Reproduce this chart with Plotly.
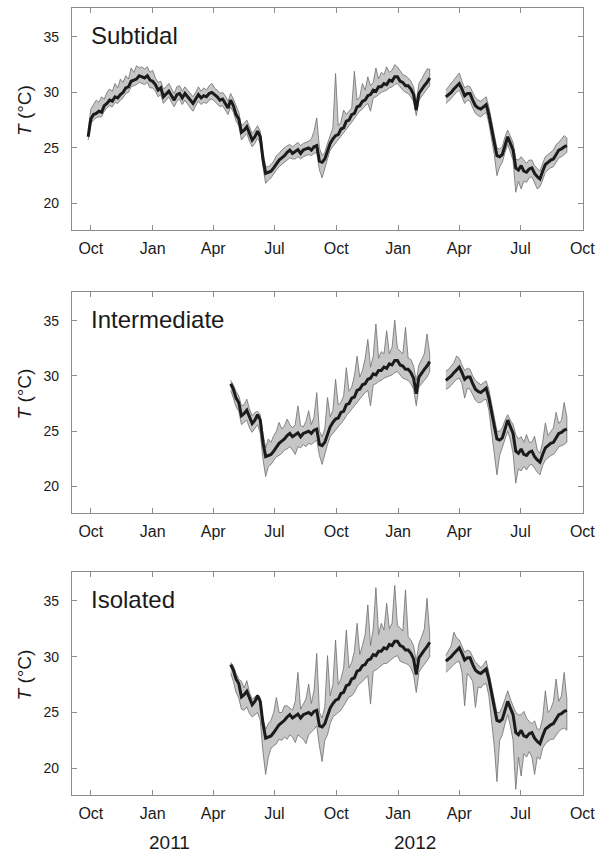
import pandas as pd
import plotly.graph_objects as go

# ---------------- data (4-day sampling) ----------------
sub_start = "2010-09-27"
site_start = "2011-04-27"
step = "4D"

tick_dates = ["2010-10-01", "2011-01-01", "2011-04-01", "2011-07-01", "2011-10-01",
              "2012-01-01", "2012-04-01", "2012-07-01", "2012-10-01"]
tick_labels = ["Oct", "Jan", "Apr", "Jul", "Oct", "Jan", "Apr", "Jul", "Oct"]
y_ticks = [20, 25, 30, 35]
panel_names = ["Subtidal", "Intermediate", "Isolated"]
year_labels = ["2011", "2012"]
year_dates = ["2011-01-26", "2012-01-26"]

N = None
# daily-mean temperature (thick line)
mean_T = [
    26.0, 27.6, 28.0, 28.1, 28.3, 28.2, 28.8, 29.0, 29.3, 29.2,
    29.6, 29.5, 29.8, 30.0, 30.4, 30.5, 31.0, 31.1, 31.2, 31.5,
    31.4, 31.3, 31.5, 31.1, 31.0, 30.7, 30.2, 30.4, 29.6, 29.9,
    30.1, 29.7, 29.3, 29.8, 29.9, 29.5, 29.9, 29.6, 29.3, 29.0,
    29.4, 29.8, 29.5, 29.7, 29.6, 29.9, 30.0, 29.8, 29.6, 29.3,
    29.4, 29.0, 28.6, 29.3, 28.8, 28.0, 27.6, 26.4, 26.6, 26.9,
    26.2, 25.7, 26.0, 26.5, 26.0, 24.0, 22.7, 22.8, 22.9, 23.2,
    23.6, 23.9, 24.1, 24.3, 24.6, 24.8, 24.5, 24.7, 24.85, 24.5,
    24.8, 24.9, 25.0, 24.8, 25.1, 25.2, 23.8, 23.7, 24.0, 24.7,
    25.4, 25.8, 26.1, 26.2, 26.7, 26.8, 27.4, 27.5, 28.0, 28.1,
    28.7, 28.8, 29.2, 29.3, 29.7, 29.8, 30.2, 30.1, 30.5, 30.5,
    30.8, 30.7, 31.1, 31.0, 31.4, 31.4, 31.0, 30.9, 30.6, 30.6,
    30.3, 29.8, 28.4, 29.9, 30.3, 30.6, 30.9, 31.3, N, N,
    N, N, N, 29.6, 29.8, 30.0, 30.3, 30.6, 30.8, 30.3,
    29.7, 29.9, 29.9, 29.3, 28.8, 28.6, 28.5, 28.7, 28.9, 28.0,
    26.9, 25.5, 24.3, 24.2, 24.4, 25.3, 26.0, 25.4, 24.8, 23.2,
    23.0, 23.4, 22.9, 22.8, 23.1, 23.2, 22.7, 22.4, 22.2, 22.9,
    23.5, 23.7, 23.9, 24.0, 24.4, 24.8, 24.9, 25.1, 25.2,
]

# Subtidal raw-record envelope (upper / lower)
sub_hi = [
    26.6, 28.5, 28.9, 29.3, 29.1, 29.6, 29.4, 30.0, 30.3, 30.1,
    30.8, 30.4, 31.2, 30.9, 31.5, 31.2, 32.2, 31.8, 32.4, 32.2,
    32.3, 32.1, 32.3, 31.8, 32.0, 31.3, 30.9, 31.0, 30.3, 30.5,
    30.8, 30.3, 29.9, 30.5, 30.6, 30.1, 30.5, 30.2, 29.9, 29.6,
    30.0, 30.5, 30.1, 30.4, 30.2, 30.6, 30.8, 30.4, 30.2, 29.9,
    30.0, 29.7, 29.2, 29.9, 29.4, 28.7, 28.2, 27.0, 27.2, 27.5,
    26.8, 26.3, 26.6, 27.0, 26.5, 24.6, 23.3, 23.3, 23.5, 23.8,
    24.3, 24.5, 24.8, 25.0, 25.2, 25.3, 25.1, 25.3, 25.5, 25.2,
    25.4, 25.5, 25.6, 25.8, 26.5, 27.7, 25.0, 24.3, 24.6, 25.4,
    26.2, 26.8, 31.7, 27.0, 27.3, 28.4, 28.0, 28.3, 28.6, 31.9,
    29.3, 29.6, 30.8, 30.2, 31.4, 30.6, 30.9, 32.2, 31.2, 31.8,
    31.6, 32.3, 31.8, 32.0, 32.5, 32.3, 31.9, 31.6, 31.5, 31.3,
    31.0, 30.5, 29.2, 30.8, 31.2, 31.6, 32.1, 32.1, N, N,
    N, N, N, 30.2, 30.5, 30.8, 31.1, 31.4, 31.75, 31.0,
    30.4, 30.6, 30.5, 30.0, 29.5, 29.3, 29.2, 29.4, 29.6, 28.7,
    27.6, 26.2, 25.0, 24.9, 25.1, 26.0, 26.6, 26.1, 25.5, 24.0,
    23.9, 24.2, 23.9, 23.6, 23.9, 23.9, 23.4, 23.1, 22.9, 23.6,
    24.2, 24.4, 24.6, 24.8, 25.3, 25.5, 25.8, 26.1, 25.9,
]
sub_lo = [
    25.7, 27.2, 27.5, 27.7, 27.8, 27.8, 28.3, 28.6, 28.8, 28.7,
    29.1, 29.0, 29.3, 29.5, 29.9, 30.0, 30.5, 30.6, 30.7, 30.9,
    30.8, 30.7, 30.9, 30.4, 30.4, 30.1, 29.6, 29.8, 29.0, 29.3,
    29.6, 29.1, 28.7, 29.2, 29.4, 28.9, 29.3, 29.0, 28.6, 28.3,
    28.8, 29.2, 28.9, 29.1, 29.0, 29.3, 29.4, 29.2, 29.0, 28.7,
    28.8, 28.4, 28.0, 28.7, 28.2, 27.4, 27.0, 25.7, 26.0, 26.3,
    25.6, 25.1, 25.4, 25.9, 25.4, 23.3, 21.8, 22.1, 22.3, 22.6,
    23.0, 23.3, 23.5, 23.7, 23.9, 24.1, 24.0, 24.0, 24.2, 24.0,
    24.2, 24.3, 24.4, 24.3, 24.5, 24.6, 23.0, 22.3, 23.2, 24.0,
    24.8, 25.2, 25.4, 25.7, 26.0, 26.3, 26.7, 27.0, 27.3, 27.6,
    28.0, 28.3, 28.5, 28.8, 29.0, 28.3, 29.5, 29.6, 29.8, 30.0,
    30.1, 30.2, 30.4, 30.5, 30.7, 30.8, 30.5, 30.2, 30.0, 29.9,
    29.6, 29.2, 27.9, 29.3, 29.7, 30.0, 30.3, 30.6, N, N,
    N, N, N, 29.0, 29.2, 29.4, 29.7, 30.0, 30.2, 29.6,
    29.0, 29.3, 29.2, 28.6, 28.1, 27.9, 27.8, 28.0, 28.2, 27.2,
    26.0, 24.4, 22.5, 23.3, 23.7, 24.6, 25.3, 24.6, 23.9, 21.0,
    22.0, 21.3, 22.0, 21.9, 22.3, 22.4, 21.9, 21.3, 21.5, 22.1,
    22.8, 23.0, 23.2, 23.3, 23.7, 24.1, 24.2, 24.4, 24.6,
]

# Intermediate envelope (from site_start)
int_hi = [
    29.6, 29.2, 28.6, 28.2, 27.3, 27.4, 27.9, 27.0, 26.4, 26.7,
    26.8, 26.5, 24.8, 23.5, 24.3, 24.0, 24.6, 25.0, 25.8, 25.2,
    25.5, 26.1, 25.6, 25.3, 25.6, 27.3, 25.5, 25.4, 25.9, 26.85,
    25.6, 26.3, 28.5, 25.0, 24.5, 25.2, 28.05, 26.3, 26.9, 29.7,
    27.4, 27.6, 28.2, 30.75, 28.6, 29.0, 30.0, 31.8, 29.9, 30.5,
    31.6, 33.3, 30.8, 31.8, 34.7, 31.6, 32.2, 32.0, 34.1, 32.0,
    32.6, 35.05, 32.5, 32.2, 32.0, 34.4, 31.6, 31.5, 30.9, 29.6,
    31.0, 31.5, 32.0, 33.8, 32.0, N, N, N, N, N,
    30.45, 30.6, 30.9, 31.2, 31.8, 31.6, 31.0, 30.5, 30.7, 30.6,
    30.0, 29.6, 29.4, 29.2, 29.4, 29.55, 28.8, 27.6, 26.3, 25.0,
    25.0, 25.3, 26.0, 26.5, 26.0, 25.6, 24.7, 24.3, 24.5, 24.0,
    24.7, 24.0, 24.0, 24.55, 23.3, 23.0, 24.0, 25.75, 24.6, 24.9,
    25.3, 26.7, 25.7, 26.0, 27.6, 26.3,
]
int_lo = [
    28.7, 28.0, 27.2, 26.8, 25.6, 25.8, 26.0, 25.3, 24.9, 25.2,
    25.6, 24.8, 22.5, 20.9, 21.8, 22.0, 22.3, 22.7, 22.8, 23.0,
    23.3, 23.4, 23.6, 23.3, 22.9, 23.6, 23.5, 23.8, 23.6, 23.9,
    23.8, 24.0, 24.2, 22.8, 22.0, 23.0, 23.8, 24.5, 24.9, 25.2,
    25.5, 25.7, 26.0, 26.4, 26.8, 27.0, 27.3, 27.7, 28.0, 28.2,
    28.5, 28.7, 27.3, 29.2, 29.3, 29.5, 29.6, 29.8, 29.9, 30.0,
    30.1, 30.3, 30.4, 30.1, 29.8, 29.7, 29.6, 29.3, 28.8, 27.3,
    29.0, 29.3, 29.6, 29.9, 30.4, N, N, N, N, N,
    28.8, 28.9, 29.2, 29.4, 29.7, 29.8, 29.3, 28.0, 28.9, 28.8,
    28.3, 27.8, 27.6, 27.6, 27.8, 27.9, 26.9, 25.0, 23.0, 21.05,
    22.8, 23.4, 24.3, 25.0, 24.2, 23.0, 20.3, 21.6, 21.4, 21.8,
    21.5, 21.9, 22.0, 21.6, 21.3, 21.05, 21.9, 22.4, 22.6, 22.8,
    22.9, 23.2, 23.6, 23.7, 23.8, 24.0,
]

# Isolated envelope (from site_start)
iso_hi = [
    29.5, 29.2, 28.5, 28.0, 27.8, 27.2, 27.85, 26.8, 26.2, 26.4,
    26.6, 26.3, 24.5, 23.5, 24.0, 24.3, 25.0, 26.35, 25.0, 25.0,
    25.6, 25.6, 25.4, 25.2, 26.0, 28.6, 25.3, 25.8, 26.2, 27.55,
    25.8, 27.0, 30.3, 25.0, 24.5, 25.5, 30.1, 26.5, 27.5, 31.5,
    27.5, 28.0, 29.0, 32.4, 29.0, 29.5, 30.5, 33.0, 30.2, 31.0,
    32.0, 34.65, 31.0, 32.5, 36.2, 32.0, 33.0, 32.4, 34.8, 32.5,
    33.0, 36.4, 32.8, 32.6, 32.3, 36.0, 31.8, 31.5, 31.0, 29.6,
    31.2, 31.8, 32.5, 35.25, 32.0, N, N, N, N, N,
    30.1, 30.6, 31.0, 32.2, 31.7, 31.5, 31.0, 30.4, 30.6, 30.5,
    30.0, 29.5, 29.3, 29.0, 29.3, 29.65, 28.6, 27.5, 26.2, 25.0,
    25.0, 25.5, 26.2, 26.95, 26.2, 25.6, 25.0, 24.8, 24.8, 25.1,
    24.5, 24.2, 24.0, 24.25, 23.5, 23.5, 24.5, 26.95, 25.0, 25.3,
    26.0, 28.0, 26.0, 26.5, 28.6, 26.2,
]
iso_lo = [
    28.5, 27.8, 26.8, 26.3, 25.3, 25.2, 25.5, 24.9, 24.6, 24.8,
    25.0, 24.3, 21.5, 19.45, 21.0, 21.8, 22.0, 22.2, 22.6, 22.5,
    22.8, 22.6, 23.0, 22.8, 22.3, 23.0, 22.8, 22.6, 22.2, 23.0,
    23.2, 23.5, 23.8, 22.0, 20.6, 22.5, 23.0, 24.0, 24.6, 24.8,
    25.0, 25.2, 25.5, 26.0, 26.4, 26.5, 26.8, 27.3, 27.6, 27.8,
    28.0, 28.3, 25.75, 28.7, 28.8, 29.0, 29.2, 29.4, 29.4, 29.6,
    29.8, 30.0, 30.1, 29.6, 29.5, 29.4, 29.3, 29.0, 28.4, 26.8,
    28.6, 29.0, 29.3, 29.6, 30.0, N, N, N, N, N,
    28.6, 28.8, 29.0, 29.3, 29.5, 29.6, 28.6, 25.6, 28.5, 28.2,
    27.8, 25.45, 27.3, 27.2, 27.5, 27.6, 26.5, 24.5, 22.0, 18.8,
    22.5, 23.0, 24.0, 24.8, 23.8, 22.5, 18.1, 21.0, 19.3, 21.3,
    21.0, 21.5, 21.0, 19.45, 21.0, 20.8, 21.8, 22.2, 22.4, 22.6,
    22.6, 23.0, 23.3, 23.5, 23.6, 23.4,
]

# ---------------- figure ----------------
W, H = 600, 854
FONT = "Liberation Sans, Arial, sans-serif"
BAND_FILL = "#c6c6c6"
BAND_LINE = "#6f6f6f"
MEAN_COL = "#1b1b1b"
FRAME = "#8c8c8c"
TXT = "#1a1a1a"

sub_dates = pd.date_range(sub_start, periods=len(mean_T), freq=step)
site_dates = pd.date_range(site_start, periods=len(int_hi), freq=step)
offset = list(sub_dates).index(pd.Timestamp(site_start))
site_mean = mean_T[offset:]

# panel pixel boxes: (top, bottom)
boxes = [(8, 230), (292, 513), (572, 795)]
x_left, x_right = 72, 583


def segments(dates, hi, lo):
    segs, cur = [], []
    for d, h, l in zip(dates, hi, lo):
        if h is None or l is None:
            if cur:
                segs.append(cur)
            cur = []
        else:
            cur.append((d, h, l))
    if cur:
        segs.append(cur)
    return segs


panels = [
    (sub_dates, sub_hi, sub_lo, mean_T),
    (site_dates, int_hi, int_lo, site_mean),
    (site_dates, iso_hi, iso_lo, site_mean),
]

fig = go.Figure()
for k, (dates, hi, lo, mn) in enumerate(panels):
    xa = "x" if k == 0 else f"x{k+1}"
    ya = "y" if k == 0 else f"y{k+1}"
    for seg in segments(dates, hi, lo):
        ds = [s[0] for s in seg]
        hs = [s[1] for s in seg]
        ls = [s[2] for s in seg]
        fig.add_trace(go.Scatter(
            x=ds + ds[::-1], y=hs + ls[::-1], mode="lines", fill="toself",
            fillcolor=BAND_FILL, line=dict(color=BAND_LINE, width=0.8),
            xaxis=xa, yaxis=ya, showlegend=False, hoverinfo="skip"))
    fig.add_trace(go.Scatter(
        x=list(dates), y=mn, mode="lines", connectgaps=False,
        line=dict(color=MEAN_COL, width=3), xaxis=xa, yaxis=ya,
        showlegend=False))

layout = dict(
    width=W, height=H, autosize=False, margin=dict(l=0, r=0, t=0, b=0, pad=0),
    paper_bgcolor="white", plot_bgcolor="white",
    font=dict(family=FONT, color=TXT, size=14),
    annotations=[],
)

for k, (top, bot) in enumerate(boxes):
    xk = "xaxis" if k == 0 else f"xaxis{k+1}"
    yk = "yaxis" if k == 0 else f"yaxis{k+1}"
    ya = "y" if k == 0 else f"y{k+1}"
    xa = "x" if k == 0 else f"x{k+1}"
    common = dict(
        showline=True, mirror="ticks", linecolor=FRAME, linewidth=1.3,
        ticks="inside", ticklen=5, tickwidth=1, tickcolor=FRAME,
        showgrid=False, zeroline=False, automargin=False,
    )
    layout[xk] = dict(
        common, type="date", domain=[x_left / W, x_right / W],
        range=["2010-09-03", "2012-10-02"],
        tickvals=tick_dates, ticktext=tick_labels, anchor=ya,
        tickfont=dict(family=FONT, size=16, color=TXT), ticklabelstandoff=4,
    )
    layout[yk] = dict(
        common, domain=[1 - bot / H, 1 - top / H], range=[17.6, 37.6],
        tickvals=y_ticks, ticktext=[str(v) for v in y_ticks], anchor=xa,
        tickfont=dict(family=FONT, size=14, color=TXT), ticklabelstandoff=9,
    )
    # panel name
    layout["annotations"].append(dict(
        text=panel_names[k], x=0.033, y=0.875, xref=f"{xa} domain",
        yref=f"{ya} domain", xanchor="left", yanchor="middle", showarrow=False,
        font=dict(family=FONT, size=24, color=TXT)))
    # y-axis title
    layout["annotations"].append(dict(
        text="<i>T</i> (°C)", x=24 / W, y=1 - ((top + bot) / 2 - 8) / H,
        xref="paper", yref="paper", textangle=-90, showarrow=False,
        xanchor="center", yanchor="middle",
        font=dict(family=FONT, size=19, color=TXT)))

for lab, d in zip(year_labels, year_dates):
    layout["annotations"].append(dict(
        text=lab, x=d, y=1 - 842 / H, xref="x3", yref="paper",
        showarrow=False, xanchor="center", yanchor="middle",
        font=dict(family=FONT, size=19, color=TXT)))

fig.update_layout(**layout)
fig.write_html("out.html", config={"responsive": False})
